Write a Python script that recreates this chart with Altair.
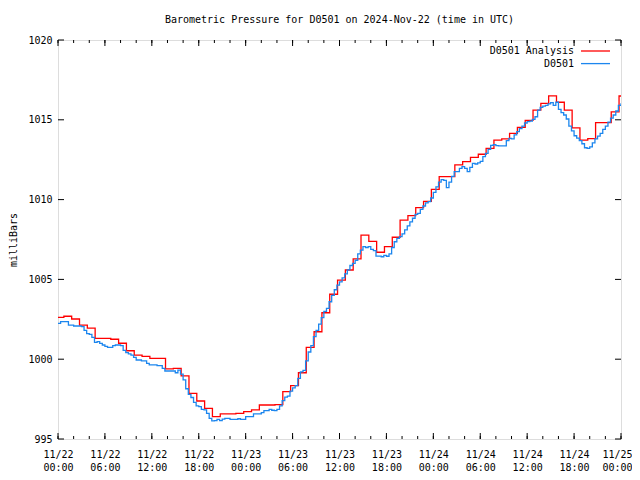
import altair as alt
import pandas as pd

# ---------------- data ----------------
series_names = ["D0501 Analysis", "D0501"]
series_colors = ["#ff0000", "#1c86ee"]

# hourly analysis values (each value holds from hh:45 to next hh:45, starting 11/21 23:45)
red_values = [
    1002.62, 1002.69, 1002.52, 1002.14, 1001.95, 1001.31, 1001.30, 1001.25, 1001.00, 1000.53,
    1000.26, 1000.18, 1000.05, 1000.05, 999.40, 999.43, 998.95, 997.86, 997.38, 996.92,
    996.40, 996.57, 996.57, 996.61, 996.71, 996.82, 997.13, 997.13, 997.15, 997.97,
    998.34, 999.15, 1000.74, 1001.72, 1002.91, 1004.07, 1004.96, 1005.59, 1006.28, 1007.78,
    1007.38, 1006.70, 1007.05, 1007.64, 1008.72, 1009.00, 1009.50, 1009.89, 1010.64, 1011.44,
    1011.44, 1012.17, 1012.38, 1012.65, 1012.84, 1013.21, 1013.73, 1013.80, 1014.15, 1014.53,
    1014.97, 1015.61, 1016.03, 1016.50, 1016.10, 1015.61, 1014.50, 1013.73, 1013.82, 1014.82,
    1014.82, 1015.50, 1016.49,
]

# station values every 20 minutes from 11/22 00:00 to 11/25 00:00
blue_values = [
    1002.25, 1002.35, 1002.35, 1002.35, 1002.14, 1002.14, 1002.08, 1002.08, 1002.08, 1002.04,
    1001.80, 1001.60, 1001.55, 1001.37, 1001.05, 1001.10, 1000.99, 1000.89, 1000.80, 1000.74,
    1000.74, 1000.85, 1000.89, 1000.89, 1000.85, 1000.55, 1000.41, 1000.33, 1000.26, 1000.12,
    999.95, 999.95, 999.90, 999.90, 999.74, 999.64, 999.64, 999.64, 999.60, 999.60,
    999.43, 999.26, 999.26, 999.26, 999.26, 999.15, 999.32, 999.07, 998.70, 998.15,
    997.80, 997.60, 997.30, 997.07, 997.03, 996.85, 996.82, 996.60, 996.29, 996.13,
    996.15, 996.23, 996.15, 996.25, 996.29, 996.29, 996.23, 996.23, 996.23, 996.27,
    996.23, 996.23, 996.40, 996.40, 996.40, 996.57, 996.57, 996.57, 996.65, 996.78,
    996.78, 996.86, 996.80, 996.78, 996.86, 997.07, 997.40, 997.63, 997.69, 998.00,
    998.20, 998.35, 998.80, 999.20, 999.30, 999.90, 1000.45, 1000.85, 1001.41, 1001.80,
    1002.20, 1002.60, 1003.00, 1003.18, 1003.60, 1004.00, 1004.35, 1004.64, 1004.85, 1005.10,
    1005.35, 1005.60, 1005.87, 1006.00, 1006.20, 1006.60, 1006.84, 1007.05, 1007.00, 1007.05,
    1006.88, 1006.80, 1006.46, 1006.46, 1006.42, 1006.50, 1006.45, 1006.60, 1007.00, 1007.36,
    1007.57, 1007.68, 1007.85, 1008.10, 1008.35, 1008.60, 1008.83, 1009.08, 1009.14, 1009.39,
    1009.60, 1009.80, 1009.87, 1010.10, 1010.45, 1010.80, 1011.10, 1011.25, 1011.20, 1010.75,
    1011.10, 1011.45, 1011.75, 1011.75, 1011.96, 1012.07, 1011.96, 1011.75, 1012.02, 1012.27,
    1012.23, 1012.30, 1012.40, 1012.69, 1012.90, 1013.15, 1013.40, 1013.45, 1013.38, 1013.36,
    1013.36, 1013.36, 1013.70, 1013.84, 1013.80, 1014.05, 1014.26, 1014.45, 1014.60, 1014.80,
    1014.88, 1014.92, 1015.03, 1015.19, 1015.60, 1015.78, 1015.86, 1015.90, 1016.00, 1016.07,
    1015.90, 1016.10, 1015.65, 1015.45, 1015.30, 1015.05, 1014.60, 1014.30, 1014.00, 1013.85,
    1013.70, 1013.50, 1013.25, 1013.21, 1013.30, 1013.55, 1013.80, 1013.98, 1014.15, 1014.40,
    1014.60, 1014.85, 1015.10, 1015.30, 1015.55, 1015.90, 1016.03,
]

y_ticks = [995, 1000, 1005, 1010, 1015, 1020]

FMT = "%Y-%m-%dT%H:%M:%SZ"
red_times = pd.date_range("2024-11-21 23:45", periods=len(red_values) + 1, freq="h")
blue_times = pd.date_range("2024-11-22 00:00", periods=len(blue_values), freq="20min")
major_times = pd.date_range("2024-11-22 00:00", "2024-11-25 00:00", freq="6h")
minor_times = pd.date_range("2024-11-22 00:00", "2024-11-25 00:00", freq="2h")

red_df = pd.DataFrame({"t": red_times.strftime(FMT), "p": red_values + [red_values[-1]]})
blue_df = pd.DataFrame({"t": blue_times.strftime(FMT), "p": blue_values})
major_df = pd.DataFrame({"t": major_times.strftime(FMT)})
minor_df = pd.DataFrame({"t": minor_times.strftime(FMT)})
ytick_df = pd.DataFrame({"p": y_ticks})

W, H = 563, 399
FONT = "DejaVu Sans Mono"
FS = 10
LW = 1.3

x_scale = alt.Scale(
    type="utc",
    domain=[
        alt.DateTime(year=2024, month=11, date=22, hours=0, utc=True),
        alt.DateTime(year=2024, month=11, date=25, hours=0, utc=True),
    ],
)
y_scale = alt.Scale(domain=[995, 1020], nice=False, zero=False)

x_axis = alt.Axis(
    values=[alt.DateTime(year=t.year, month=t.month, date=t.day, hours=t.hour, utc=True) for t in major_times],
    labelExpr="[utcFormat(datum.value, '%m/%d'), utcFormat(datum.value, '%H:%M')]",
    ticks=False, tickSize=0, domain=False, grid=False, title=None,
    labelPadding=10, labelLineHeight=13, labelBaseline="top",
    labelFont=FONT, labelFontSize=FS, labelColor="black", labelFlush=False,
    labelOverlap=False,
    labelOffset={"condition": {"test": "datum.index >= 1", "value": -4}, "value": 0},
)
y_axis = alt.Axis(
    values=y_ticks, format="d",
    ticks=False, tickSize=0, domain=False, grid=False,
    title="milliBars", titleFont=FONT, titleFontSize=FS, titleFontWeight="normal",
    titleColor="black", titlePadding=9,
    labelPadding=6, labelFont=FONT, labelFontSize=FS, labelColor="black",
    labelFlush=False,
)

X = alt.X("t:T", scale=x_scale, axis=x_axis)
Y = alt.Y("p:Q", scale=y_scale, axis=y_axis)

red_line = alt.Chart(red_df).mark_line(
    interpolate="step-after", color=series_colors[0], strokeWidth=LW, clip=True
).encode(x=X, y=Y)

blue_line = alt.Chart(blue_df).mark_line(
    interpolate="step-after", color=series_colors[1], strokeWidth=LW, clip=True
).encode(x=alt.X("t:T", scale=x_scale), y=alt.Y("p:Q", scale=y_scale))

xt = alt.X("t:T", scale=x_scale)
ticks = [
    alt.Chart(major_df).mark_rule(color="black", strokeWidth=1).encode(x=xt, y=alt.value(H), y2=alt.value(H - 6)),
    alt.Chart(major_df).mark_rule(color="black", strokeWidth=1).encode(x=xt, y=alt.value(0), y2=alt.value(6)),
    alt.Chart(minor_df).mark_rule(color="black", strokeWidth=1).encode(x=xt, y=alt.value(H), y2=alt.value(H - 3)),
    alt.Chart(minor_df).mark_rule(color="black", strokeWidth=1).encode(x=xt, y=alt.value(0), y2=alt.value(3)),
    alt.Chart(ytick_df).mark_rule(color="black", strokeWidth=1).encode(
        y=alt.Y("p:Q", scale=y_scale), x=alt.value(0), x2=alt.value(6)),
    alt.Chart(ytick_df).mark_rule(color="black", strokeWidth=1).encode(
        y=alt.Y("p:Q", scale=y_scale), x=alt.value(W), x2=alt.value(W - 6)),
]

legend_layers = []
one = pd.DataFrame({"k": [0]})
for i, (name, color) in enumerate(zip(series_names, series_colors)):
    ypix = 11 + 12.6 * i
    legend_layers.append(
        alt.Chart(one).mark_text(
            text=name, align="right", baseline="middle", font=FONT, fontSize=FS, color="black"
        ).encode(x=alt.value(516), y=alt.value(ypix))
    )
    legend_layers.append(
        alt.Chart(one).mark_rule(color=color, strokeWidth=LW).encode(
            x=alt.value(523), x2=alt.value(552), y=alt.value(ypix))
    )

chart = alt.layer(red_line, blue_line, *ticks, *legend_layers).properties(
    width=W, height=H,
    title=alt.TitleParams(
        "Barometric Pressure for D0501 on 2024-Nov-22 (time in UTC)",
        font=FONT, fontSize=FS, fontWeight="normal", color="black", offset=10, anchor="middle",
    ),
    autosize=alt.AutoSizeParams(type="none"),
    padding={"left": 50, "top": 32, "right": 11, "bottom": 33},
).configure_view(stroke="black", strokeWidth=1).configure(background="white")

chart.save("out.html", embed_options={"renderer": "svg", "actions": False})
